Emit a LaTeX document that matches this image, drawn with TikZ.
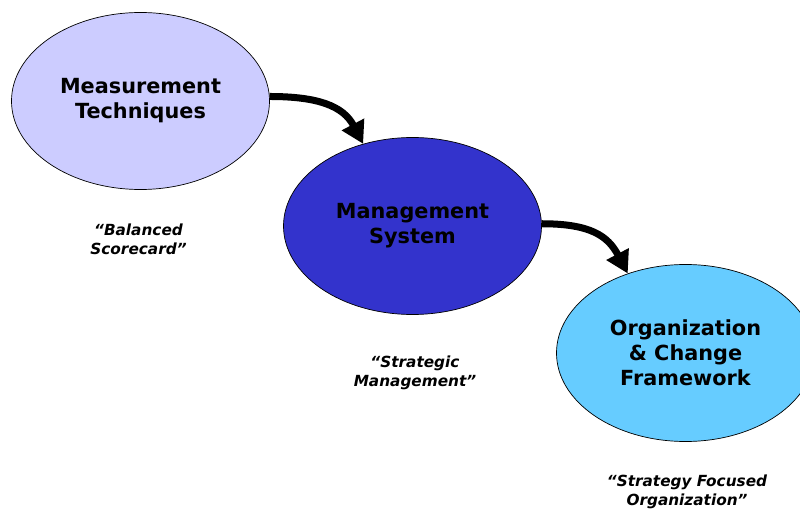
\documentclass[tikz,border=0pt]{standalone}
\usepackage{fontspec}
\setmainfont{DejaVu Sans}
\usetikzlibrary{shapes.geometric,arrows.meta}
\definecolor{lav}{HTML}{CCCCFF}
\definecolor{dblue}{HTML}{3333CC}
\definecolor{lblue}{HTML}{66CCFF}
\tikzset{
  oval/.style={ellipse, draw=black, line width=0.7bp, minimum width=258bp, minimum height=177bp,
    inner sep=0pt, align=center, font=\fontsize{20.8bp}{25bp}\selectfont\bfseries},
  sub/.style={align=center, inner sep=0pt, font=\fontsize{15.3bp}{19.5bp}\selectfont\bfseries\itshape},
  flow/.style={line width=7bp, -{Triangle[length=22bp,width=24bp]}}
}
\begin{document}
\begin{tikzpicture}[x=1bp,y=-1bp]
\useasboundingbox (0,0) rectangle (800,510);
\node[oval, fill=lav]   (e1) at (140.5,101) {Measurement\\Techniques};
\node[oval, fill=dblue] (e2) at (412.5,226) {Management\\System};
\node[oval, fill=lblue] (e3) at (685.5,353) {Organization\\\& Change\\Framework};
\node[sub] (s1) at (138.5,239.5) {“Balanced\\Scorecard”};
\node[sub] (s2) at (415,373) {“Strategic\\Management”};
\node[sub] (s3) at (687,492) {“Strategy Focused\\Organization”};
\draw[flow] (e1.2) .. controls +(48,0) and +(-20,-38) .. (e2.121.6);
\draw[flow] (e2.1) .. controls +(48,0) and +(-20,-38) .. (e3.126.2);
\end{tikzpicture}
\end{document}
